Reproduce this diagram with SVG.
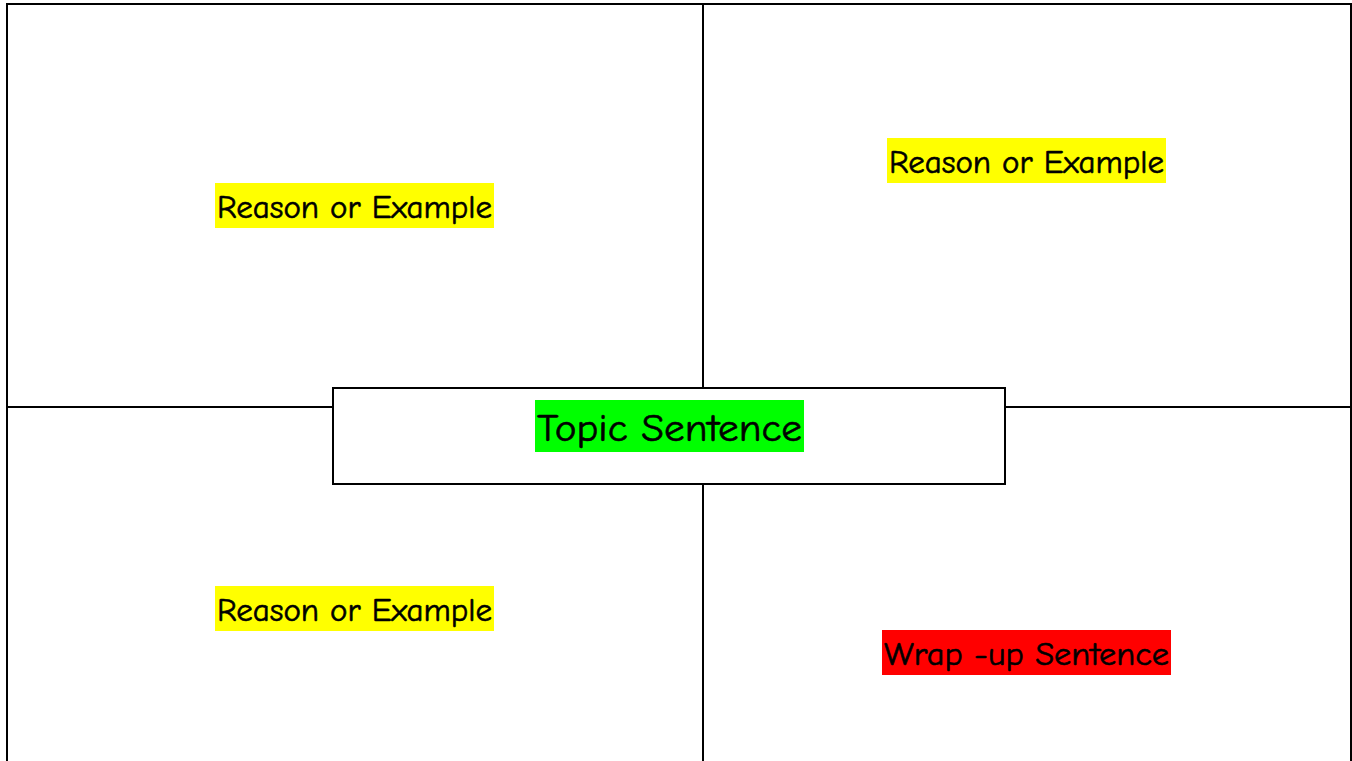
<svg xmlns="http://www.w3.org/2000/svg" width="1352" height="761" viewBox="0 0 1352 761">
<style>
.ln{stroke:#000;stroke-width:2;fill:none}
.t{font-family:"Comic Sans MS","Comic Neue","DejaVu Sans","Liberation Sans",sans-serif;fill:#000;stroke:#000;stroke-width:0.6}
.s{font-size:32px}
.b{font-size:38px}
</style>
<rect width="1352" height="761" fill="#fff"/>
<g id="connectors">
<path class="ln" d="M7,761 V4 H1351 V761"/>
<line class="ln" x1="703" y1="4" x2="703" y2="388"/>
<line class="ln" x1="703" y1="484" x2="703" y2="761"/>
<line class="ln" x1="7" y1="407" x2="333" y2="407"/>
<line class="ln" x1="1005" y1="407" x2="1351" y2="407"/>
</g>
<g id="topLeft">
<rect x="215" y="183" width="279" height="45" fill="#ffff00"/>
<text class="t s" x="354.5" y="218" text-anchor="middle" textLength="275" lengthAdjust="spacingAndGlyphs">Reason or Example</text>
</g>
<g id="topRight">
<rect x="887" y="138" width="279" height="45" fill="#ffff00"/>
<text class="t s" x="1026.5" y="173" text-anchor="middle" textLength="275" lengthAdjust="spacingAndGlyphs">Reason or Example</text>
</g>
<g id="bottomLeft">
<rect x="215" y="586" width="279" height="45" fill="#ffff00"/>
<text class="t s" x="354.5" y="621" text-anchor="middle" textLength="275" lengthAdjust="spacingAndGlyphs">Reason or Example</text>
</g>
<g id="bottomRight">
<rect x="882" y="630" width="289" height="45" fill="#ff0000"/>
<text class="t s" x="1026.5" y="665" text-anchor="middle" textLength="285" lengthAdjust="spacingAndGlyphs">Wrap -up Sentence</text>
</g>
<g id="topic">
<rect x="333" y="388" width="672" height="96" fill="#fff" stroke="#000" stroke-width="2"/>
<rect x="535" y="400" width="269" height="52" fill="#00ff00"/>
<text class="t b" x="669.5" y="441" text-anchor="middle" textLength="265" lengthAdjust="spacingAndGlyphs">Topic Sentence</text>
</g>
</svg>
